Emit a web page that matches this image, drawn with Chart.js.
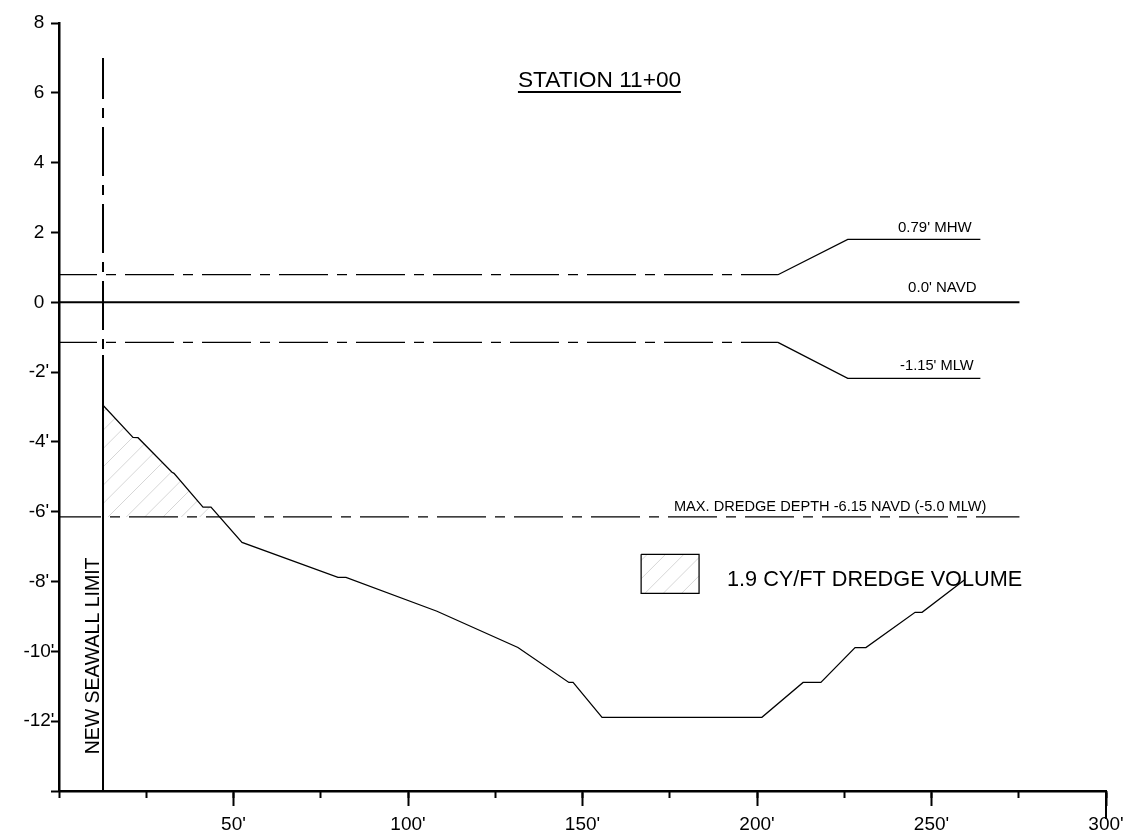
<!DOCTYPE html>
<html>
<head>
<meta charset="utf-8">
<style>html,body{margin:0;padding:0;background:#fff}canvas{display:block}</style>
<script src="https://cdn.jsdelivr.net/npm/chart.js@4/dist/chart.umd.js"></script>
</head>
<body>
<canvas id="c" width="1144" height="832"></canvas>
<script>
const FONT = '"Liberation Sans", Arial, sans-serif';

// Data
const yTickValues = [8, 6, 4, 2, 0, -2, -4, -6, -8, -10, -12, -14];
const yTickLabels = ['8', '6', '4', '2', '0', "-2'", "-4'", "-6'", "-8'", "-10'", "-12'", ''];
const xTickValues = [0, 50, 100, 150, 200, 250, 300];
const xTickLabels = ['', "50'", "100'", "150'", "200'", "250'", "300'"];

const profileX = [12.61, 21.2, 22.64, 32.38, 32.95, 41.26, 43.55, 52.44, 79.94, 82.23, 108.3, 131.5, 146.1, 147.3, 155.6, 201.4, 213.2, 218.3, 228.1, 231.2, 245.3, 247.3, 259.6];
const profileY = [-2.95, -3.87, -3.88, -4.87, -4.9, -5.87, -5.87, -6.88, -7.88, -7.88, -8.85, -9.89, -10.89, -10.89, -11.89, -11.89, -10.89, -10.89, -9.89, -9.89, -8.88, -8.88, -7.94];

const dredgeAreaX = [12.61, 21.2, 22.64, 32.38, 32.95, 41.26, 43.55, 46.1];
const dredgeAreaY = [-2.95, -3.87, -3.88, -4.87, -4.9, -5.87, -5.87, -6.15];
const dredgeDepth = -6.15;
const dredgeLineX = [0, 275.2];
const dredgeLineY = [-6.15, -6.15];

const navdX = [0, 275.2];
const navdY = [0, 0];

const mhwFlatX = [0, 206];
const mhwFlatY = [0.79, 0.79];
const mhwLeaderX = [206, 226, 264];
const mhwLeaderY = [0.79, 1.8, 1.8];

const mlwFlatX = [0, 206];
const mlwFlatY = [-1.15, -1.15];
const mlwLeaderX = [206, 226, 264];
const mlwLeaderY = [-1.15, -2.18, -2.18];

const wallUpperX = [12.61, 12.61];
const wallUpperY = [7, -1.51];
const wallLowerX = [12.61, 12.61];
const wallLowerY = [-1.51, -14];

const legendBoxX = [166.8, 183.4, 183.4, 166.8, 166.8];
const legendBoxY = [-7.22, -7.22, -8.34, -8.34, -7.22];

const titleRuleX = [131.5, 178.2];
const titleRuleY = [6.02, 6.02];

const endTickX = [300, 300];
const endTickY = [-14, -14.8];

const notes = [
  {text: 'STATION 11+00', x: 131.5, y: 6.16, size: 22.7},
  {text: "0.79' MHW", x: 240.4, y: 2.0, size: 15},
  {text: "0.0' NAVD", x: 243.3, y: 0.29, size: 15},
  {text: "-1.15' MLW", x: 241, y: -1.95, size: 14.7},
  {text: 'MAX. DREDGE DEPTH -6.15 NAVD (-5.0 MLW)', x: 176.2, y: -5.99, size: 14.6},
  {text: '1.9 CY/FT DREDGE VOLUME', x: 191.4, y: -8.14, size: 21.7},
  {text: 'NEW SEAWALL LIMIT', x: 11.6, y: -12.95, size: 19.5, rotate: true}
];

function pts(xs, ys) { return xs.map((x, i) => ({x, y: ys[i]})); }

function hatch(phase) {
  const period = 55, n = 3, gap = period / n;
  const tile = document.createElement('canvas');
  tile.width = tile.height = period;
  const t = tile.getContext('2d');
  t.strokeStyle = '#d6d6d6';
  t.lineWidth = 1;
  for (let k = -1; k <= 2 * n + 1; k++) {
    const c = phase + k * gap;
    t.beginPath();
    t.moveTo(c + 5, -5);
    t.lineTo(c - period - 5, period + 5);
    t.stroke();
  }
  return tile;
}

const ctx = document.getElementById('c').getContext('2d');
const areaPattern = ctx.createPattern(hatch(1.67), 'repeat');
const boxPattern = ctx.createPattern(hatch(9.9), 'repeat');

function line(xs, ys, extra) {
  return Object.assign({
    data: pts(xs, ys), borderColor: '#000', borderWidth: 1.25, pointRadius: 0,
    tension: 0, fill: false, clip: false
  }, extra || {});
}

const DASH = [49, 9, 10, 9];

const notesPlugin = {
  id: 'notes',
  afterDatasetsDraw(chart) {
    const c = chart.ctx, sx = chart.scales.x, sy = chart.scales.y;
    c.save();
    c.fillStyle = '#000';
    c.textBaseline = 'alphabetic';
    c.textAlign = 'left';
    notes.forEach(n => {
      c.save();
      c.font = n.size + 'px ' + FONT;
      c.translate(sx.getPixelForValue(n.x), sy.getPixelForValue(n.y));
      if (n.rotate) c.rotate(-Math.PI / 2);
      c.fillText(n.text, 0, 0);
      c.restore();
    });
    c.restore();
  }
};

new Chart(ctx, {
  type: 'line',
  plugins: [notesPlugin],
  data: {
    datasets: [
      line(profileX, profileY),
      line(navdX, navdY, {borderWidth: 2}),
      line(mhwFlatX, mhwFlatY, {borderDash: DASH, borderDashOffset: 11}),
      line(mhwLeaderX, mhwLeaderY),
      line(mlwFlatX, mlwFlatY, {borderDash: DASH, borderDashOffset: 11}),
      line(mlwLeaderX, mlwLeaderY),
      line(dredgeLineX, dredgeLineY, {borderDash: DASH, borderDashOffset: 7}),
      line(wallUpperX, wallUpperY, {borderWidth: 2, borderDash: DASH, borderDashOffset: 8}),
      line(wallLowerX, wallLowerY, {borderWidth: 2}),
      line(titleRuleX, titleRuleY, {borderWidth: 2}),
      line(endTickX, endTickY, {borderWidth: 2}),
      line(legendBoxX, legendBoxY, {fill: 'shape', backgroundColor: boxPattern}),
      line(dredgeAreaX, dredgeAreaY, {borderWidth: 0, borderColor: 'transparent', fill: {value: dredgeDepth}, backgroundColor: areaPattern})
    ]
  },
  options: {
    responsive: false,
    animation: false,
    devicePixelRatio: 1,
    layout: {padding: {top: 23, right: 38, left: 0, bottom: 0}},
    plugins: {legend: {display: false}, tooltip: {enabled: false}, title: {display: false}},
    scales: {
      x: {
        type: 'linear', min: 0, max: 300,
        afterFit(s) { s.height = 41; },
        afterBuildTicks(s) { s.ticks = xTickValues.map(value => ({value})); },
        border: {display: true, color: '#000', width: 2.5},
        grid: {
          drawOnChartArea: false, drawTicks: true, tickLength: 15, tickWidth: 2,
          tickColor: c => (c.tick && c.tick.value === 0) ? 'transparent' : '#000'
        },
        ticks: {
          autoSkip: false, maxRotation: 0, padding: 7, color: '#000',
          font: {family: FONT, size: 19},
          callback: v => xTickLabels[xTickValues.indexOf(v)]
        }
      },
      xMinor: {
        axis: 'x', type: 'linear', min: 0, max: 300, position: {y: -14},
        border: {display: false},
        grid: {drawOnChartArea: false, drawTicks: true, tickLength: 7, tickWidth: 2, tickColor: '#000'},
        ticks: {display: false, stepSize: 25, autoSkip: false}
      },
      y: {
        type: 'linear', min: -14, max: 8, position: 'left',
        afterFit(s) { s.width = 59; },
        afterBuildTicks(s) { s.ticks = yTickValues.map(value => ({value})); },
        border: {display: true, color: '#000', width: 2.5},
        grid: {drawOnChartArea: false, drawTicks: true, tickLength: 8, tickWidth: 2, tickColor: '#000'},
        ticks: {
          autoSkip: false, crossAlign: 'center', padding: -3.5, color: '#000',
          font: {family: FONT, size: 19},
          callback: v => yTickLabels[yTickValues.indexOf(v)]
        }
      }
    }
  }
});
</script>
</body>
</html>
